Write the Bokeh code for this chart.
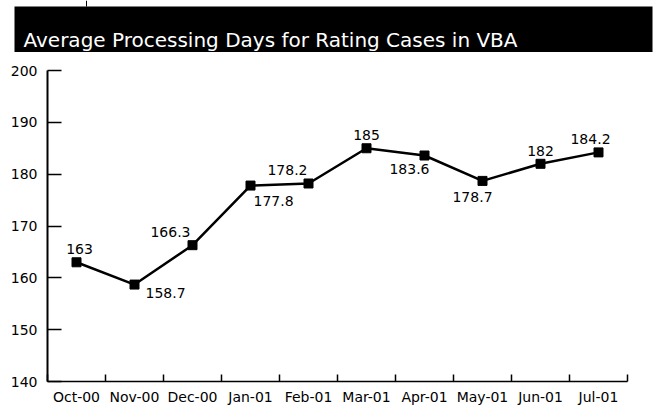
from bokeh.plotting import figure
from bokeh.models import FixedTicker, Label, ColumnDataSource, Range1d
from bokeh.layouts import column
from bokeh.embed import file_html
from bokeh.resources import INLINE
from bokeh.core.properties import value

# ---- data ----
title_text = "Average Processing Days for Rating Cases in VBA"
months = ["Oct-00", "Nov-00", "Dec-00", "Jan-01", "Feb-01",
          "Mar-01", "Apr-01", "May-01", "Jun-01", "Jul-01"]
days = [163, 158.7, 166.3, 177.8, 178.2, 185, 183.6, 178.7, 182, 184.2]
y_ticks = [140, 150, 160, 170, 180, 190, 200]

# ---- label placement (style only) ----
label_dx = [3, 11, -2, 3, -1, 0, 5, -10, 0, -8]
label_dy = [-13, 8, -13, 15, -13, -13, 13, 16, -13, -13]
label_align = ["center", "left", "right", "left", "right",
               "center", "right", "center", "center", "center"]

FONT = value("DejaVu Sans")
W = 654

# ---- title bar figure (pixel-like coordinates) ----
tf = figure(width=W, height=52, output_backend="svg", toolbar_location=None,
            x_range=Range1d(0, W), y_range=Range1d(52, 0),
            x_axis_location=None, y_axis_location=None,
            min_border=0, min_border_left=0, min_border_right=0,
            min_border_top=0, min_border_bottom=0,
            background_fill_color="white", border_fill_color="white",
            outline_line_color=None)
tf.frame_align = False
tf.grid.visible = False
tf.quad(left=[14], right=[652], top=[6], bottom=[52],
        fill_color="black", line_color=None)
tf.segment(x0=[86], y0=[0], x1=[86], y1=[6], line_color="black", line_width=1)
tf.add_layout(Label(x=23, y=13, x_units="screen", y_units="screen",
                    text=title_text, text_color="white",
                    text_font="DejaVu Sans", text_font_size="20px",
                    text_baseline="alphabetic", text_align="left"))

# ---- chart ----
n = len(months)
xs = [i + 0.5 for i in range(n)]
src = ColumnDataSource(dict(x=xs, y=days, txt=[f"{d:g}" for d in days],
                            dx=label_dx, dy=label_dy, al=label_align))

p = figure(width=W, height=355, output_backend="svg", toolbar_location=None,
           x_range=Range1d(0, n), y_range=Range1d(y_ticks[0], y_ticks[-1]),
           min_border_left=47, min_border_right=27, min_border_top=18,
           min_border_bottom=25, outline_line_color=None,
           background_fill_color="white", border_fill_color="white")
p.frame_align = False
p.grid.visible = False

p.line("x", "y", source=src, line_color="black", line_width=2.5)
p.scatter("x", "y", source=src, marker="square", size=9,
          fill_color="black", line_color="black")
p.text("x", "y", text="txt", source=src, x_offset="dx", y_offset="dy",
       text_align="al", text_baseline="middle", text_font=FONT,
       text_font_size="14px", text_color="black")

xa = p.xaxis[0]
xa.ticker = FixedTicker(ticks=xs, minor_ticks=list(range(n + 1)))
xa.major_label_overrides = {x: m for x, m in zip(xs, months)}
xa.major_tick_in = 0
xa.major_tick_out = 0
xa.minor_tick_in = 7
xa.minor_tick_out = 0
xa.minor_tick_line_color = "black"
xa.minor_tick_line_width = 1.5
xa.axis_line_width = 1.5
xa.axis_line_color = "black"
xa.major_label_standoff = 7
xa.major_label_text_font = "DejaVu Sans"
xa.major_label_text_font_size = "14px"
xa.major_label_text_color = "black"

ya = p.yaxis[0]
ya.ticker = FixedTicker(ticks=y_ticks)
ya.major_tick_in = 14
ya.major_tick_out = 0
ya.minor_tick_in = 0
ya.minor_tick_out = 0
ya.major_tick_line_width = 1.5
ya.major_tick_line_color = "black"
ya.axis_line_width = 2
ya.axis_line_color = "black"
ya.major_label_standoff = 10
ya.major_label_text_font = "DejaVu Sans"
ya.major_label_text_font_size = "14px"
ya.major_label_text_color = "black"

layout = column(tf, p, spacing=0)

open("out.html", "w").write(file_html(layout, INLINE))
